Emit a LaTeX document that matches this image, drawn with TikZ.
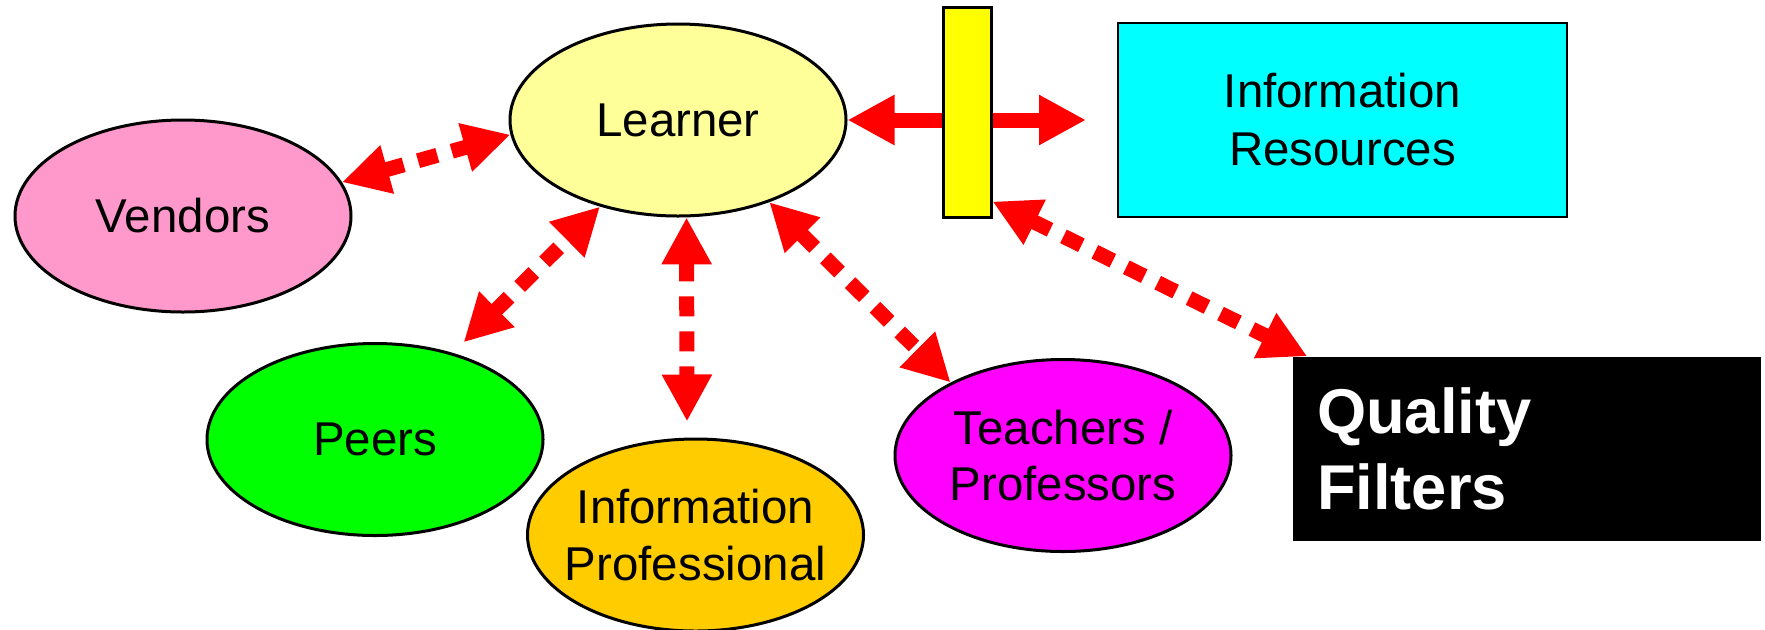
\documentclass[tikz,border=0pt]{standalone}
\usepackage{fontspec}
\setmainfont{Liberation Sans}
\usepackage{tikz}
\usetikzlibrary{arrows.meta}
\usetikzlibrary{positioning}
\usetikzlibrary{shapes.geometric}
\tikzstyle{every node}+=[inner sep=0pt]
\definecolor{learnercol}{RGB}{255,255,153}
\definecolor{vendorcol}{RGB}{255,153,204}
\definecolor{peercol}{RGB}{0,255,0}
\definecolor{profcol}{RGB}{255,204,0}
\definecolor{teachcol}{RGB}{255,0,255}
\definecolor{barcol}{RGB}{255,255,0}
\definecolor{rescol}{RGB}{0,255,255}
\definecolor{arrowcol}{RGB}{255,0,0}

\begin{document}
\begin{tikzpicture}
        \tikzstyle{blob}=[ellipse, draw=black, line width=0.03cm, inner xsep=-0.3cm, inner ysep=-0.3cm, minimum width=3.36cm, minimum height=1.92cm, align=center, font=\fontsize{13.5pt}{16.2pt}\selectfont]
        \tikzstyle{redline}=[draw=arrowcol, line width=0.15cm, {Triangle[length=0.47cm,width=0.47cm]}-{Triangle[length=0.47cm,width=0.47cm]}]
        \tikzstyle{reddash}=[redline, dash pattern=on 0.2cm off 0.15cm]
        \useasboundingbox (0,0) rectangle (17.65,-6.29);
        % the people round the learner
        \node [blob, fill=learnercol] (learner) at (6.78,-1.20) {Learner};
        \node [blob, fill=vendorcol] (vendors) at (1.83,-2.16) {Vendors};
        \node [blob, fill=peercol] (peers) at (3.75,-4.395) {Peers};
        \node [blob, fill=profcol] (infoprof) at (6.955,-5.35) {Information\\Professional};
        \node [blob, fill=teachcol] (teachers) at (10.63,-4.555) {Teachers /\\Professors};
        % boxes
        \node [rectangle, draw=black, line width=0.025cm, fill=rescol, minimum width=4.49cm, minimum height=1.94cm, align=center, font=\fontsize{13.5pt}{16.5pt}\selectfont] (resources) at (13.425,-1.20) {Information\\Resources};
        \node [rectangle, fill=black, text=white, text width=4.2cm, inner xsep=0.24cm, minimum height=1.84cm, align=left, font=\fontsize{18pt}{21.6pt}\selectfont\bfseries] (quality) at (15.27,-4.49) {Quality\\Filters};
        % through the filter
        \coordinate (restip) at (10.86,-1.20);
        \draw [redline] (learner.east) -- (restip);
        \node [rectangle, draw=black, line width=0.03cm, fill=barcol, minimum width=0.48cm, minimum height=2.10cm] (bar) at (9.67,-1.12) {};
        % dashed links
        \draw [reddash] (vendors.12) -- (learner.185);
        \draw [reddash, shorten <=0.15cm] (peers.48) -- (learner.228);
        \draw [reddash] (learner.-85) -- ([xshift=-0.085cm,yshift=0.16cm]infoprof.north);
        \draw [reddash] (learner.-42) -- (teachers.147);
        \draw [reddash] ([yshift=0.17cm]bar.south east) -- ([xshift=0.15cm]quality.north west);
\end{tikzpicture}
\end{document}
